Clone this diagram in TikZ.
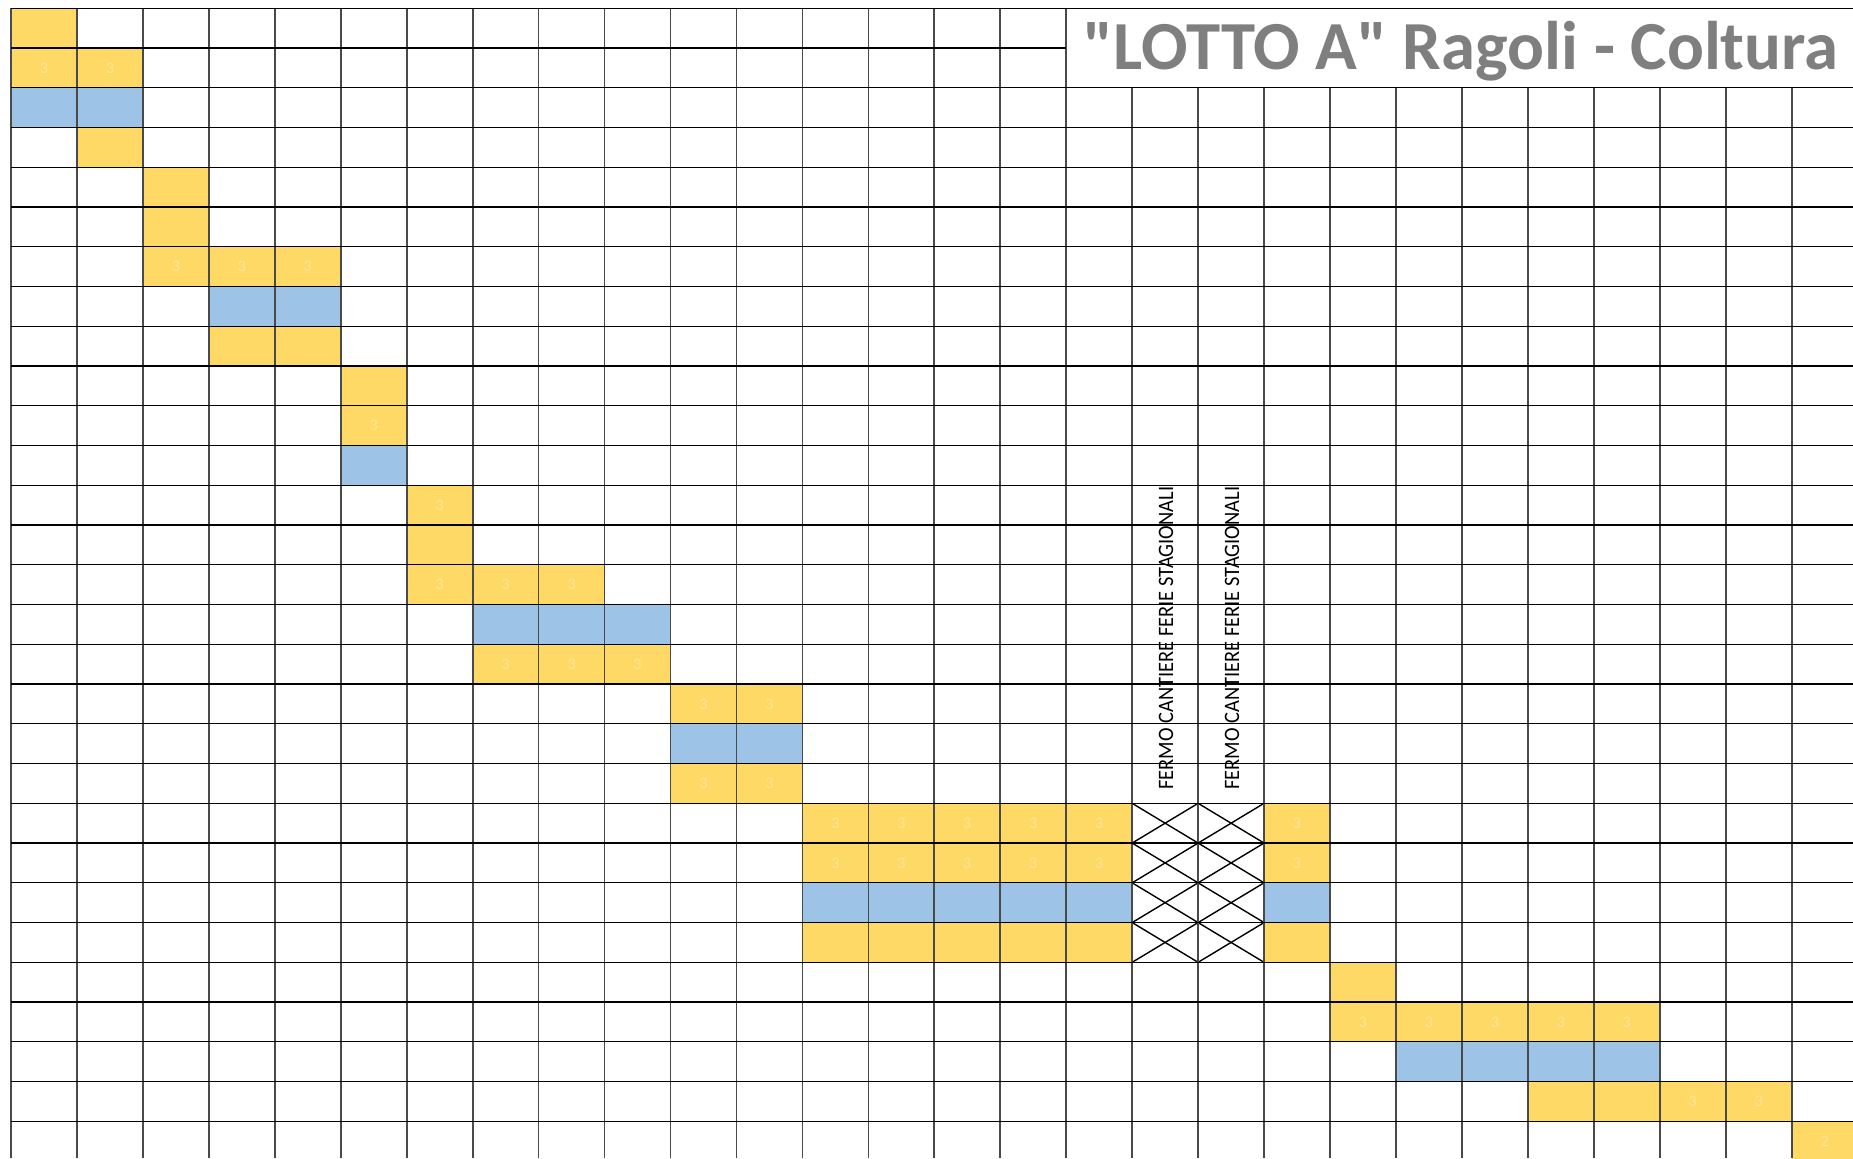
\documentclass[tikz,border=0pt]{standalone}
\usepackage{fontspec}
\setmainfont{Carlito}
\newfontfamily\plaincarlito{Carlito}[Ligatures=TeXOff]
\definecolor{ylw}{HTML}{FFD966}
\definecolor{blu}{HTML}{9DC3E6}
\definecolor{numc}{HTML}{FFE699}
\definecolor{ttl}{HTML}{7F7F7F}
\definecolor{vln}{HTML}{4A4A4A}
\begin{document}
\begin{tikzpicture}[x=0.5pt,y=-0.5pt,
  yfill/.style={fill=ylw},
  bfill/.style={fill=blu},
  hline/.style={draw=black,line width=0.65pt},
  vline/.style={draw=vln,line width=0.85pt},
  xline/.style={draw=black,line width=0.7pt},
  numlbl/.style={inner sep=0pt,text=numc,font=\fontsize{8}{8}\selectfont},
  vtext/.style={rotate=90,anchor=base west,inner sep=0pt,font=\fontsize{11}{12}\selectfont},
  titletext/.style={anchor=base west,inner sep=0pt,text=ttl,font=\plaincarlito\bfseries\fontsize{34.4}{35}\selectfont}]
\useasboundingbox (0,0) rectangle (1853,1158);
\clip (0,0) rectangle (1853,1158);
\fill[white] (0,0) rectangle (1853,1158);
% yellow cells
\foreach \c/\r in {0/0,0/1,1/1,1/3,2/4,2/5,2/6,3/6,4/6,3/8,4/8,5/9,5/10,6/12,6/13,6/14,7/14,8/14,
  7/16,8/16,9/16,10/17,11/17,10/19,11/19,
  12/20,13/20,14/20,15/20,16/20,19/20,12/21,13/21,14/21,15/21,16/21,19/21,
  12/23,13/23,14/23,15/23,16/23,19/23,20/24,20/25,21/25,22/25,23/25,24/25,
  23/27,24/27,25/27,26/27,27/28}
  {\fill[yfill] ({11+65.95*\c},{8.3+39.75*\r}) rectangle ({11+65.95*(\c+1)},{8.3+39.75*(\r+1)});}
% blue cells
\foreach \c/\r in {0/2,1/2,3/7,4/7,5/11,7/15,8/15,9/15,10/18,11/18,
  12/22,13/22,14/22,15/22,16/22,19/22,21/26,22/26,23/26,24/26}
  {\fill[bfill] ({11+65.95*\c},{8.3+39.75*\r}) rectangle ({11+65.95*(\c+1)},{8.3+39.75*(\r+1)});}
% crossed cells
\foreach \c in {17,18}
  \foreach \r in {20,21,22,23}
  {\draw[xline] ({11+65.95*\c},{8.3+39.75*\r}) -- ({11+65.95*(\c+1)},{8.3+39.75*(\r+1)});
   \draw[xline] ({11+65.95*\c},{8.3+39.75*(\r+1)}) -- ({11+65.95*(\c+1)},{8.3+39.75*\r});}
% grid: vertical lines
\foreach \k in {0,...,16}
  {\draw[vline] ({11+65.95*\k},8.3) -- ({11+65.95*\k},1158);}
\foreach \k in {17,...,27}
  {\draw[vline] ({11+65.95*\k},88.3) -- ({11+65.95*\k},1158);}
% grid: horizontal lines
\foreach \r in {0,2,3,...,28}
  {\draw[hline] (11,{8.3+39.75*\r}) -- (1853,{8.3+39.75*\r});}
\draw[hline] (11,48.05) -- (1066.2,48.05);
% faint numbers
\foreach \c/\r in {0/1,1/1,2/6,3/6,4/6,5/10,6/12,6/14,7/14,8/14,7/16,8/16,9/16,10/17,11/17,10/19,11/19,
  12/20,13/20,14/20,15/20,16/20,19/20,12/21,13/21,14/21,15/21,16/21,19/21,
  20/25,21/25,22/25,23/25,24/25,25/27,26/27}
  {\node[numlbl] (n-\c-\r) at ({11+65.95*(\c+0.5)},{8.3+39.75*(\r+0.5)}) {3};}
\node[numlbl] (n-27-28) at ({11+65.95*27.5},{8.3+39.75*28.5}) {2};
% vertical texts
\node[vtext] (fermoA) at (1173,790) {\scalebox{0.93}[1]{FERMO CANTIERE FERIE STAGIONALI}};
\node[vtext] (fermoB) at (1239,790) {\scalebox{0.93}[1]{FERMO CANTIERE FERIE STAGIONALI}};
% title
\node[titletext] (title) at (1083,69) {"LOTTO A" Ragoli - Coltura};
\end{tikzpicture}
\end{document}
